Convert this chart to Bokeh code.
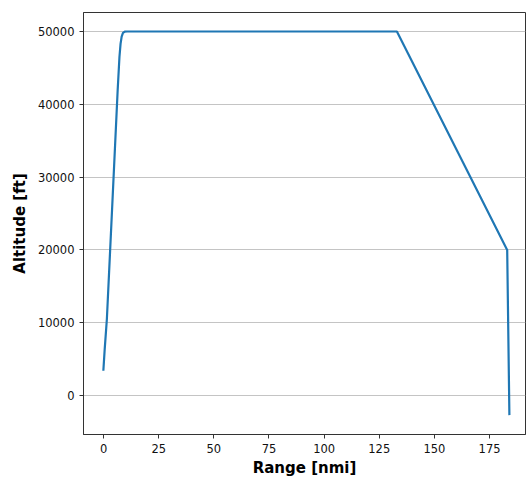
from bokeh.plotting import figure
from bokeh.models import Range1d, FixedTicker
from bokeh.embed import file_html
from bokeh.resources import INLINE

range_nmi = [-0.1, 0.5, 1.5, 4.0, 6.4, 7.2, 7.7, 8.2, 8.8, 9.6, 10.6, 12.0, 133.0, 183.0, 184.0]
altitude_ft = [3400, 6300, 10500, 26500, 42000, 46500, 48300, 49300, 49800, 49970, 50000, 50000, 50000, 20000, -2700]
x_ticks = [0, 25, 50, 75, 100, 125, 150, 175]
y_ticks = [0, 10000, 20000, 30000, 40000, 50000]

p = figure(width=526, height=479, output_backend="svg", toolbar_location=None,
           x_range=Range1d(-9.1, 191.3), y_range=Range1d(-5360, 52610),
           min_border_left=83, min_border_right=1, min_border_top=12, min_border_bottom=45)
p.line(range_nmi, altitude_ft, line_color="#1f77b4", line_width=2.2)

p.xaxis.ticker = FixedTicker(ticks=x_ticks)
p.yaxis.ticker = FixedTicker(ticks=y_ticks)
p.xaxis.axis_label = "Range [nmi]"
p.yaxis.axis_label = "Altitude [ft]"
for ax in (p.xaxis[0], p.yaxis[0]):
    ax.axis_label_text_font = "DejaVu Sans"
    ax.axis_label_text_font_style = "bold"
    ax.axis_label_text_font_size = "15px"
    ax.axis_label_text_color = "black"
    ax.major_label_text_font = "DejaVu Sans"
    ax.major_label_text_font_size = "11.5px"
    ax.major_label_text_color = "#111111"
    ax.minor_tick_line_color = None
    ax.major_tick_out = 4
    ax.major_tick_in = 0
    ax.axis_line_color = "#333333"
    ax.major_tick_line_color = "#333333"
p.yaxis.major_label_orientation = "horizontal"
p.xaxis.axis_label_standoff = 3
p.yaxis.axis_label_standoff = 6
p.xgrid.grid_line_color = None
p.ygrid.grid_line_color = "#c4c4c4"
p.outline_line_color = "#333333"
p.outline_line_alpha = 1

open("out.html", "w").write(file_html(p, INLINE))
